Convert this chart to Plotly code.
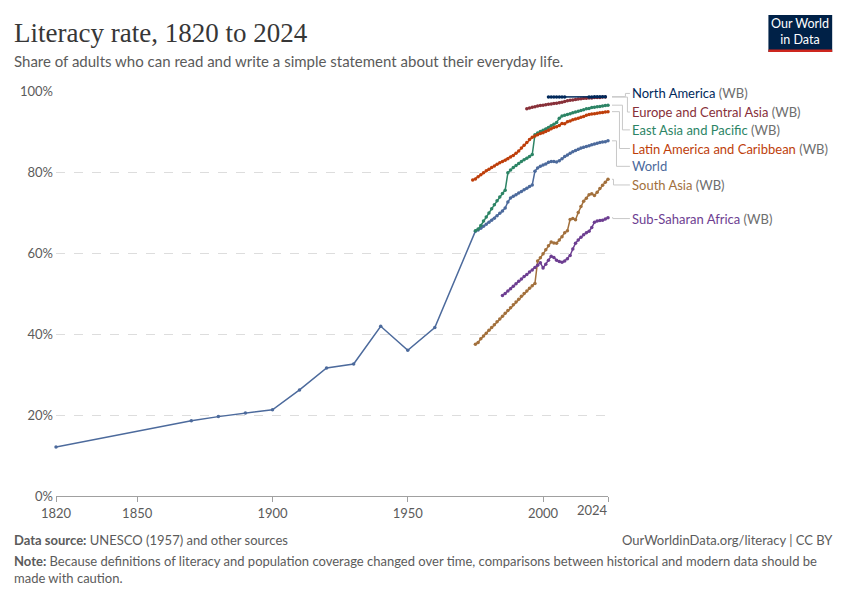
import plotly.graph_objects as go

# ---- data (literacy rate, % of adults) ----
world_years = [1820, 1870, 1880, 1890, 1900, 1910, 1920, 1930, 1940, 1950, 1960] + list(range(1975, 2025))
world_vals = [12.1, 18.6, 19.6, 20.5, 21.3, 26.2, 31.6, 32.6, 41.9, 36.0, 41.6,
              65.4, 65.7, 66.1, 66.6, 67.1, 67.6, 68.1, 68.6, 69.2, 69.8,
              70.4, 71.1, 72.6, 73.6, 74.0, 74.4, 74.8, 75.2, 75.6, 76.0,
              76.4, 76.8, 80.2, 81.0, 81.4, 81.7, 82.0, 82.4, 82.6, 82.6,
              82.5, 82.8, 83.3, 83.8, 84.2, 84.6, 85.0, 85.3, 85.6, 85.9,
              86.1, 86.3, 86.5, 86.7, 86.9, 87.1, 87.3, 87.4, 87.5, 87.7]

eap_years = list(range(1975, 2025))
eap_vals = [65.5, 65.9, 66.8, 67.9, 68.9, 69.9, 70.9, 71.9, 72.9, 73.8,
            74.7, 75.5, 79.8, 80.5, 81.1, 81.6, 82.1, 82.6, 83.0, 83.4,
            83.8, 84.3, 89.2, 89.6, 90.0, 90.3, 90.6, 91.0, 91.4, 91.8,
            92.2, 93.3, 93.8, 94.0, 94.2, 94.4, 94.6, 94.8, 95.0, 95.2,
            95.4, 95.6, 95.7, 95.9, 96.0, 96.1, 96.2, 96.3, 96.4, 96.5]

lac_years = list(range(1974, 2025))
lac_vals = [78.0, 78.3, 78.8, 79.3, 79.8, 80.3, 80.7, 81.1, 81.5, 81.9,
            82.3, 82.6, 82.9, 83.3, 83.7, 84.1, 84.6, 85.2, 85.9, 86.6,
            87.3, 88.0, 88.6, 88.9, 89.2, 89.5, 89.7, 90.0, 90.3, 90.7,
            91.0, 91.2, 91.5, 92.0, 91.9, 92.4, 92.6, 92.9, 93.1, 93.3,
            93.5, 93.7, 94.0, 94.2, 94.3, 94.4, 94.5, 94.6, 94.7, 94.8,
            94.9]

eca_years = list(range(1994, 2024))
eca_vals = [95.6, 95.8, 96.0, 96.1, 96.3, 96.4, 96.5, 96.6, 96.7, 96.8,
            96.9, 97.0, 97.1, 97.2, 97.4, 97.6, 97.7, 97.8, 97.9, 98.0,
            98.1, 98.2, 98.2, 98.3, 98.3, 98.4, 98.4, 98.4, 98.5, 98.5]

na_years = [2002, 2003, 2004, 2005, 2006, 2007, 2008,
            2017, 2018, 2019, 2020, 2021, 2022, 2023]
na_vals = [98.5, 98.5, 98.5, 98.5, 98.5, 98.5, 98.5,
           98.5, 98.5, 98.6, 98.6, 98.6, 98.6, 98.6]

sas_years = list(range(1975, 2025))
sas_vals = [37.5, 37.9, 38.8, 39.5, 40.2, 40.9, 41.6, 42.3, 43.0, 43.7,
            44.4, 45.1, 45.8, 46.5, 47.2, 47.9, 48.6, 49.3, 50.0, 50.6,
            51.3, 51.9, 52.5, 58.0, 58.8, 59.8, 60.8, 61.8, 62.7, 62.5,
            62.4, 63.2, 64.0, 65.0, 65.5, 68.3, 68.5, 68.2, 70.0, 71.5,
            72.8, 73.5, 74.4, 74.6, 74.2, 75.0, 75.9, 76.7, 77.5, 78.2]

ssa_years = list(range(1985, 2025))
ssa_vals = [49.5, 50.0, 50.6, 51.2, 51.8, 52.4, 53.0, 53.6, 54.2, 54.7,
            55.3, 55.8, 56.4, 57.0, 57.6, 56.3, 57.2, 58.2, 59.2, 58.9,
            58.2, 57.9, 57.7, 58.0, 58.6, 59.4, 61.0, 62.4, 63.2, 63.9,
            64.5, 65.0, 65.4, 66.3, 67.6, 67.9, 68.0, 68.1, 68.4, 68.7]

series = [
    ("World", world_years, world_vals, "#4C6A9C", False),
    ("South Asia", sas_years, sas_vals, "#A2703C", True),
    ("Sub-Saharan Africa", ssa_years, ssa_vals, "#6D3E91", True),
    ("East Asia and Pacific", eap_years, eap_vals, "#2C8465", True),
    ("Latin America and Caribbean", lac_years, lac_vals, "#BE3E0A", True),
    ("Europe and Central Asia", eca_years, eca_vals, "#883039", True),
    ("North America", na_years, na_vals, "#00295B", True),
]

# label placement (label y in %, elbow x in screen px)
labels = {
    "North America": (99.4, 625.5),
    "Europe and Central Asia": (94.8, 627.5),
    "East Asia and Pacific": (90.4, 622.5),
    "Latin America and Caribbean": (85.8, 619.5),
    "World": (81.4, 616.5),
    "South Asia": (76.8, 613.5),
    "Sub-Saharan Africa": (68.5, 613.0),
}

# page body adds an 8px offset; plot area given in screen pixels
OFF = 8
W, H = 850 - OFF, 600 - OFF
L, R, T, B = 54, 608, 91, 496


def px(x):
    return (x - L) / (R - L)


def py(y):
    return (B - y) / (B - T)


fig = go.Figure()
for name, xs, ys, color, wb in series:
    fig.add_trace(go.Scatter(
        x=xs, y=ys, mode="lines+markers", name=name,
        line=dict(color=color, width=1.5),
        marker=dict(color=color, size=3.5),
        cliponaxis=False, showlegend=False,
    ))

shapes = []
annotations = []
line_style = dict(color="#c8c8c8", width=1)
for name, xs, ys, color, wb in series:
    ly, ex = labels[name]
    y_end = ys[-1]
    shapes.append(dict(type="line", xref="paper", yref="y", x0=px(612), x1=px(ex),
                       y0=y_end, y1=y_end, line=line_style))
    shapes.append(dict(type="line", xref="paper", yref="y", x0=px(ex), x1=px(ex),
                       y0=y_end, y1=ly, line=line_style))
    shapes.append(dict(type="line", xref="paper", yref="y", x0=px(ex), x1=px(630),
                       y0=ly, y1=ly, line=line_style))
    txt = f"<span style='color:{color}'>{name}</span>"
    if wb:
        txt += " (WB)"
    annotations.append(dict(xref="paper", yref="y", x=px(630), y=ly, text=txt,
                            showarrow=False, xanchor="left", yanchor="middle",
                            font=dict(family="Lato", size=13, color="#6e6e6e")))

# 2024 tick label is right-aligned to the axis end
annotations.append(dict(xref="x", yref="paper", x=2024, y=py(510), text="2024",
                        showarrow=False, xanchor="right", yanchor="middle",
                        xshift=2, font=dict(family="Lato", size=13, color="#5b5b5b")))

# header
annotations.append(dict(xref="paper", yref="paper", x=px(10), y=py(33),
                        text="Literacy rate, 1820 to 2024", showarrow=False,
                        xanchor="left", yanchor="middle",
                        font=dict(family="Liberation Serif", size=27, color="#373737")))
annotations.append(dict(xref="paper", yref="paper", x=px(10), y=py(61),
                        text="Share of adults who can read and write a simple statement about their everyday life.",
                        showarrow=False, xanchor="left", yanchor="middle",
                        font=dict(family="Lato", size=15, color="#5b5b5b")))

# footer
foot = dict(family="Lato", size=13, color="#5b5b5b")
annotations.append(dict(xref="paper", yref="paper", x=px(10), y=py(540),
                        text="<b>Data source:</b> UNESCO (1957) and other sources",
                        showarrow=False, xanchor="left", yanchor="middle", font=foot))
annotations.append(dict(xref="paper", yref="paper", x=px(836), y=py(540),
                        text="OurWorldinData.org/literacy | CC BY",
                        showarrow=False, xanchor="right", yanchor="middle", font=foot))
annotations.append(dict(xref="paper", yref="paper", x=px(10), y=py(569),
                        text="<b>Note:</b> Because definitions of literacy and population coverage changed over time, comparisons between historical and modern data should be<br>made with caution.",
                        showarrow=False, xanchor="left", yanchor="middle", align="left", font=foot))

# logo
shapes.append(dict(type="rect", xref="paper", yref="paper", x0=px(769), x1=px(833),
                   y0=py(52), y1=py(15), fillcolor="#002147", line=dict(width=0), layer="above"))
shapes.append(dict(type="rect", xref="paper", yref="paper", x0=px(769), x1=px(833),
                   y0=py(52), y1=py(49.5), fillcolor="#CE261E", line=dict(width=0), layer="above"))
annotations.append(dict(xref="paper", yref="paper", x=px(801), y=py(32),
                        text="Our World<br>in Data", showarrow=False,
                        xanchor="center", yanchor="middle", align="center",
                        font=dict(family="Lato", size=12.5, color="white")))

fig.update_layout(
    width=W, height=H,
    margin=dict(l=L - OFF, r=W - (R - OFF), t=T - OFF, b=H - (B - OFF)),
    plot_bgcolor="white", paper_bgcolor="white",
    font=dict(family="Lato", size=13, color="#5b5b5b"),
    shapes=shapes, annotations=annotations,
    xaxis=dict(range=[1820, 2024], tickvals=[1820, 1850, 1900, 1950, 2000, 2024],
               ticktext=["1820", "1850", "1900", "1950", "2000", ""],
               showgrid=False, zeroline=False, showline=True, linecolor="#a0a0a0",
               ticks="outside", ticklen=5, tickcolor="#a0a0a0",
               tickfont=dict(family="Lato", size=13, color="#5b5b5b")),
    yaxis=dict(range=[0, 100], tickvals=[0, 20, 40, 60, 80, 100],
               ticktext=["0%", "20%", "40%", "60%", "80%", "100%"],
               showgrid=True, gridcolor="#dddddd", griddash="dash", zeroline=False,
               showline=False, ticks="", ticklabelstandoff=2,
               tickfont=dict(family="Lato", size=13, color="#5b5b5b")),
)

fig.write_html("out.html")
